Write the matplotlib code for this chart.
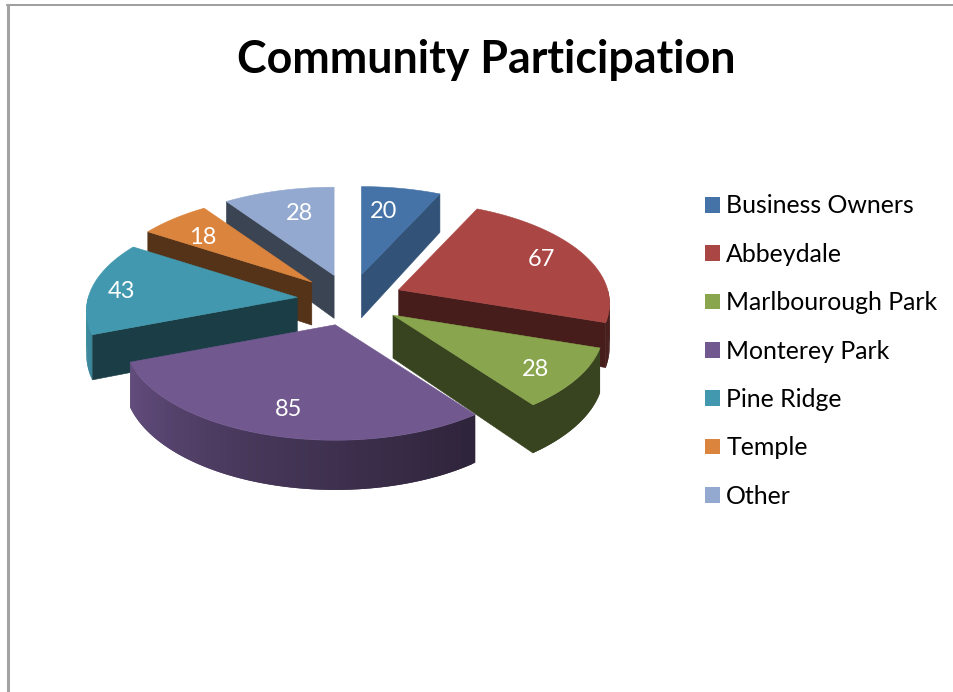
import matplotlib
matplotlib.use('Agg')
import matplotlib.pyplot as plt
import numpy as np
from matplotlib.patches import Patch, Polygon

plt.rcParams.update({
    "font.family": ['Lato', 'DejaVu Sans'],
})

title = 'Community Participation'
categories = ['Business Owners', 'Abbeydale', 'Marlbourough Park', 'Monterey Park',
              'Pine Ridge', 'Temple', 'Other']
values = [20, 67, 28, 85, 43, 18, 28]

colors = ['#4572A7', '#AA4643', '#89A54E', '#71588F', '#4198AF', '#DB843D', '#93A9CF']
# how dark the cut faces come out, the light falls on the first slice
cut_shade = [0.72, 0.42, 0.41, 0.41, 0.40, 0.39, 0.40]
# back to front
draw_order = [0, 6, 5, 1, 4, 2, 3]
label_pos = [(384, 212), (541, 259), (536, 369), (289, 410), (122, 292), (203, 238), (300, 213)]

# pie geometry in pixels
CX, CY = 350, 300
RX, RY = 209, 100
PERSP = 0.134
EXPLODE_X, EXPLODE_Y = 53, 25.8
DEPTH = 43


def project(ox, oy, x, y, z=0.0):
    # perspective only on the slice itself, the explode offset stays flat
    s = 1 / (1 + PERSP * y)
    return np.column_stack([CX + ox + RX * x * s, CY - oy - RY * y * s + z * s])


def shade(color, f):
    return tuple(np.array(matplotlib.colors.to_rgb(color)) * f)


def rim_shade(theta):
    # outer wall gets lighter going round to the left
    return np.interp(theta, [145, 200, 249, 270], [0.41, 0.63, 0.88, 0.92])


fig = plt.figure(figsize=(9.54, 6.92), dpi=100)
ax = fig.add_axes([0, 0, 1, 1])
ax.set_xlim(0, 954)
ax.set_ylim(692, 0)
ax.axis('off')

# page edges
ax.plot([7, 954], [5, 5], color='#8c8c8c', lw=1.2)
ax.plot([8, 8], [5, 692], color='#a3a3a3', lw=2.2)

edges = np.concatenate([[0], np.cumsum(values)]) / np.sum(values) * 360

for i in draw_order:
    start, end = edges[i], edges[i + 1]
    mid = np.radians((start + end) / 2)
    ox, oy = EXPLODE_X * np.sin(mid), EXPLODE_Y * np.cos(mid)
    thetas = np.append(np.arange(start, end, 1.0), end)
    rad = np.radians(thetas)
    rx, ry = np.sin(rad), np.cos(rad)
    color = colors[i]
    zero = np.array([0.0])

    top = project(ox, oy, rx, ry)
    apex = project(ox, oy, zero, zero)
    apex_low = project(ox, oy, zero, zero, DEPTH)
    low = project(ox, oy, rx, ry, DEPTH)
    cut = shade(color, cut_shade[i])

    # cut faces that look towards the viewer
    if np.sin(np.radians(end)) > 0:
        face = np.vstack([apex, top[-1], low[-1], apex_low])
        ax.add_patch(Polygon(face, fc=cut, ec=cut, lw=0.4))
    if np.sin(np.radians(start)) < -1e-6:
        face = np.vstack([apex, top[0], low[0], apex_low])
        ax.add_patch(Polygon(face, fc=cut, ec=cut, lw=0.4))

    # outer wall, strips overlap so no seams show
    for j in range(len(thetas) - 1):
        if np.cos(rad[j]) > 0 and np.cos(rad[j + 1]) > 0:
            continue
        k = min(j + 2, len(thetas) - 1)
        strip = np.vstack([top[j:k + 1], low[j:k + 1][::-1]])
        ax.add_patch(Polygon(strip, fc=shade(color, rim_shade(thetas[j])), ec='none'))

    ax.add_patch(Polygon(np.vstack([apex, top]), fc=color, ec=color, lw=0.4))

for v, (x, y) in zip(values, label_pos):
    ax.text(x, y, str(v), color='white', fontsize=17, ha='center', va='center')

ax.text(486, 60, title, fontsize=32.2, fontweight='bold', ha='center', va='center', color='black')

handles = [Patch(fc=c, ec='none') for c in colors]
ax.legend(handles, categories, loc='upper left', bbox_to_anchor=(0.739, 0.719), frameon=False,
          fontsize=17.9, handlelength=0.6, handleheight=0.6, handletextpad=0.25,
          labelspacing=1.02, borderpad=0, borderaxespad=0)

fig.savefig('out.png', dpi=100)
